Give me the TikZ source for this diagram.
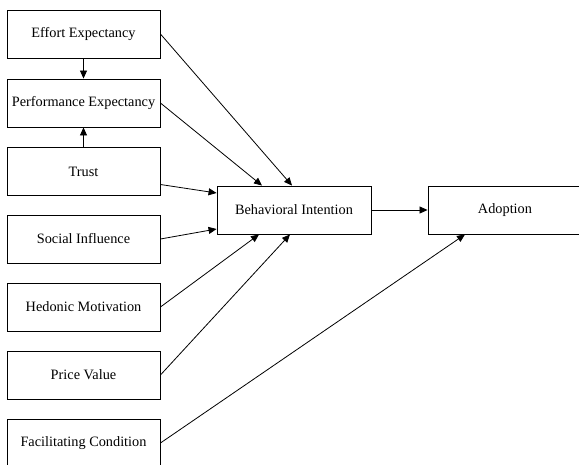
\documentclass[tikz,border=0pt]{standalone}
\usepackage{fontspec}
\setmainfont{Liberation Serif}
\usetikzlibrary{arrows.meta}
\begin{document}
\begin{tikzpicture}[x=1pt,y=-1pt,
  box/.style={draw,line width=0.9pt,minimum width=153pt,minimum height=48pt,inner sep=0pt,font=\fontsize{14.3}{17}\selectfont},
  conn/.style={line width=0.8pt,-{Triangle[length=8pt,width=7pt]}}]
\useasboundingbox (0,0) rectangle (579,464);
\clip (0,0) rectangle (579,464);
\node[box] (EE) at (83.5,34) {Effort Expectancy};
\node[box] (PE) at (83.5,103) {Performance Expectancy};
\node[box] (TR) at (83.5,171.5) {Trust};
\node[box] (SI) at (83.5,239) {Social Influence};
\node[box] (HM) at (83.5,307) {Hedonic Motivation};
\node[box] (PV) at (83.5,375) {Price Value};
\node[box] (FC) at (83.5,443) {Facilitating Condition};
\node[box,minimum width=154pt] (BI) at (294,210) {Behavioral Intention};
\node[box,minimum width=154pt] (AD) at (505,210) {Adoption};
\draw[conn] (EE.south) -- (PE.north);
\draw[conn] (TR.north) -- (PE.south);
\draw[conn] (EE.east) -- ([xshift=-2pt]BI.north);
\draw[conn] (PE.east) -- ([xshift=-32pt]BI.north);
\draw[conn] ([yshift=-13pt]TR.east) -- ([yshift=17pt]BI.west);
\draw[conn] (SI.east) -- ([yshift=-19pt]BI.west);
\draw[conn] (HM.east) -- ([xshift=-35pt]BI.south);
\draw[conn] (PV.east) -- ([xshift=-4pt]BI.south);
\draw[conn] (FC.east) -- ([xshift=-40pt]AD.south);
\draw[conn] (BI.east) -- (AD.west);
\end{tikzpicture}
\end{document}
